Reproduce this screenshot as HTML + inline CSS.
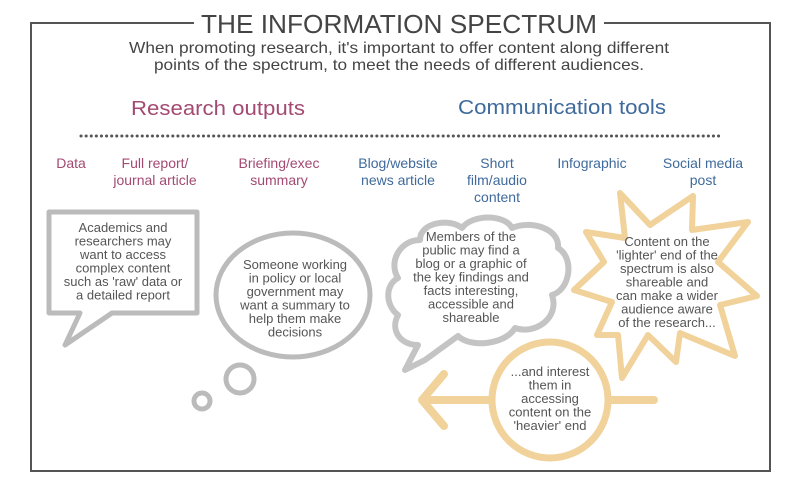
<!DOCTYPE html>
<html><head><meta charset="utf-8"><style>
html,body{margin:0;padding:0;background:#fff}
svg{display:block}
text{font-family:"Liberation Sans",sans-serif}
</style></head><body>
<svg width="800" height="492" viewBox="0 0 800 492" xmlns="http://www.w3.org/2000/svg">
<rect width="800" height="492" fill="#fff"/>
<!-- frame -->
<path d="M194 23 H31 V471 H770 V23 H604" fill="none" stroke="#555" stroke-width="2"/>
<text x="399" y="33" font-size="26" fill="#444" text-anchor="middle" textLength="396" lengthAdjust="spacingAndGlyphs">THE INFORMATION SPECTRUM</text>
<text x="399" y="53" font-size="16" fill="#444" text-anchor="middle" textLength="540" lengthAdjust="spacingAndGlyphs">When promoting research, it's important to offer content along different</text>
<text x="399" y="70" font-size="16" fill="#444" text-anchor="middle" textLength="490" lengthAdjust="spacingAndGlyphs">points of the spectrum, to meet the needs of different audiences.</text>
<text x="218" y="115" font-size="20" fill="#a34a72" text-anchor="middle" textLength="174" lengthAdjust="spacingAndGlyphs">Research outputs</text>
<text x="562" y="114" font-size="20" fill="#3f6a9c" text-anchor="middle" textLength="208" lengthAdjust="spacingAndGlyphs">Communication tools</text>
<line x1="81" y1="136" x2="719" y2="136" stroke="#555" stroke-width="3" stroke-dasharray="0.1 5" stroke-linecap="round"/>
<g font-size="14" text-anchor="middle">
<text x="71" y="168" fill="#a34a72">Data</text>
<text x="155" y="168" fill="#a34a72">Full report/</text>
<text x="155" y="185" fill="#a34a72">journal article</text>
<text x="279" y="168" fill="#a34a72">Briefing/exec</text>
<text x="279" y="185" fill="#a34a72">summary</text>
<text x="398" y="168" fill="#3f6a9c">Blog/website</text>
<text x="398" y="185" fill="#3f6a9c">news article</text>
<text x="497" y="168" fill="#3f6a9c">Short</text>
<text x="497" y="185" fill="#3f6a9c">film/audio</text>
<text x="497" y="202" fill="#3f6a9c">content</text>
<text x="592" y="168" fill="#3f6a9c">Infographic</text>
<text x="703" y="168" fill="#3f6a9c">Social media</text>
<text x="703" y="185" fill="#3f6a9c">post</text>
</g>
<!-- rect speech -->
<path d="M49 212 H197 V313 H112 L65 345 L80 313 H49 Z" fill="#fff" stroke="#bbb" stroke-width="5" stroke-linejoin="round"/>
<!-- thought -->
<ellipse cx="293" cy="295" rx="77" ry="62" fill="#fff" stroke="#bbb" stroke-width="5"/>
<circle cx="240" cy="379" r="14" fill="none" stroke="#bbb" stroke-width="5"/>
<circle cx="202" cy="401" r="8" fill="none" stroke="#bbb" stroke-width="5"/>
<!-- cloud -->
<path d="M420 240 C420 222 450 218 462 228 C472 214 505 214 512 228 C530 220 560 228 558 248 C575 258 570 290 552 295 C560 318 535 335 515 328 C505 345 470 348 458 336 L425 360 L405 370 L418 345 C400 345 390 330 398 315 C385 305 385 285 398 278 C388 262 400 240 420 240 Z" fill="#fff" stroke="#c4c4c4" stroke-width="6" stroke-linejoin="round"/>
<!-- starburst -->
<path d="M620 193 L650 225 L693 196 L692 230 L748 222 L718 262 L757 296 L720 305 L735 356 L680 333 L676 362 L648 335 L622 378 L618 335 L597 335 L612 302 L574 290 L604 262 L586 232 L625 238 Z" fill="#fff" stroke="#f0d29a" stroke-width="6" stroke-linejoin="round"/>
<!-- arrow -->
<line x1="424" y1="400" x2="654" y2="400" stroke="#f0d29a" stroke-width="8" stroke-linecap="round"/>
<path d="M444 374 L422 400 L444 426" fill="none" stroke="#f0d29a" stroke-width="8" stroke-linecap="round" stroke-linejoin="round"/>
<circle cx="550" cy="400" r="58" fill="#fff" stroke="#f0d29a" stroke-width="7"/>
<g font-size="13" fill="#555" text-anchor="middle">
<text x="123" y="232">Academics and</text>
<text x="123" y="245.5">researchers may</text>
<text x="123" y="259">want to access</text>
<text x="123" y="272.5">complex content</text>
<text x="123" y="286">such as 'raw' data or</text>
<text x="123" y="299.5">a detailed report</text>
<text x="295" y="269">Someone working</text>
<text x="295" y="282.5">in policy or local</text>
<text x="295" y="296">government may</text>
<text x="295" y="309.5">want a summary to</text>
<text x="295" y="323">help them make</text>
<text x="295" y="336.5">decisions</text>
<text x="471" y="241">Members of the</text>
<text x="471" y="254.5">public may find a</text>
<text x="471" y="268">blog or a graphic of</text>
<text x="471" y="281.5">the key findings and</text>
<text x="471" y="295">facts interesting,</text>
<text x="471" y="308.5">accessible and</text>
<text x="471" y="322">shareable</text>
<text x="667" y="246">Content on the</text>
<text x="667" y="259.5">'lighter' end of the</text>
<text x="667" y="273">spectrum is also</text>
<text x="667" y="286.5">shareable and</text>
<text x="667" y="300">can make a wider</text>
<text x="667" y="313.5">audience aware</text>
<text x="667" y="327">of the research...</text>
<text x="550" y="376">...and interest</text>
<text x="550" y="389.5">them in</text>
<text x="550" y="403">accessing</text>
<text x="550" y="416.5">content on the</text>
<text x="550" y="430">'heavier' end</text>
</g>
</svg>
</body></html>
